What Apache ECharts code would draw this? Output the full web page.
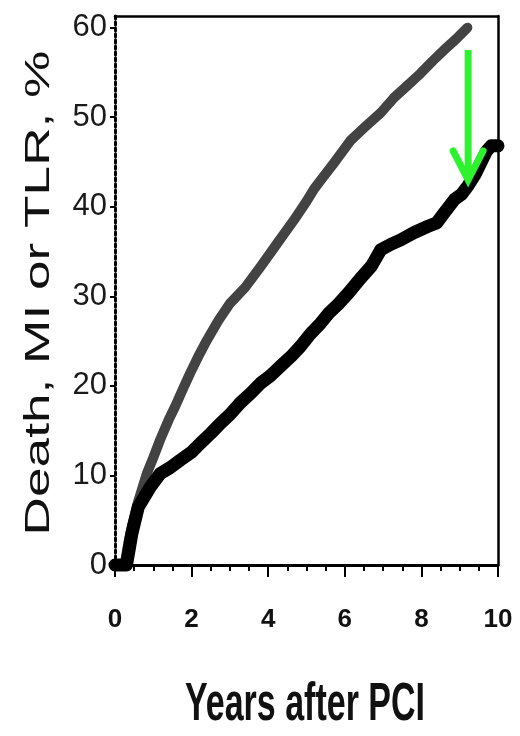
<!DOCTYPE html>
<html>
<head>
<meta charset="utf-8">
<script src="https://cdn.jsdelivr.net/npm/echarts@6/dist/echarts.min.js"></script>
<style>
  html, body { margin: 0; padding: 0; background: #fff; }
  #chart { width: 520px; height: 736px; }
</style>
</head>
<body>
<div id="chart"></div>
<script>
// Cumulative Death, MI or TLR (%) by years after PCI — two cohorts
const upperYears = [0, 0.25, 0.35, 0.45, 0.6, 0.83, 1.0, 1.18, 1.4, 1.57, 1.8, 1.96, 2.2, 2.4, 2.7, 3.0, 3.4, 3.8, 4.2, 4.67, 5.0, 5.2, 5.45, 5.72, 6.15, 6.5, 6.94, 7.29, 7.6, 7.98, 8.3, 8.59, 8.9, 9.2];
const upperPct   = [0, 0,    2.5,  4.5,  7.0, 10.2, 12.0, 14.0, 16.2, 17.7, 19.9, 21.4, 23.5, 25.1, 27.3, 29.2, 31.0, 33.3, 35.7, 38.5, 40.6, 42.0, 43.4, 44.9, 47.4, 48.8, 50.5, 52.2, 53.4, 54.9, 56.3, 57.5, 58.7, 60.0];

const lowerYears = [0, 0.3, 0.38, 0.44, 0.61, 0.92, 1.18, 1.45, 1.7, 2.0, 2.23, 2.5, 2.75, 3.0, 3.27, 3.55, 3.8, 4.05, 4.32, 4.6, 4.84, 5.1, 5.37, 5.6, 5.8, 6.1, 6.41, 6.7, 6.94, 7.2, 7.46, 7.8, 8.16, 8.4, 8.59, 8.86, 9.05, 9.21, 9.4, 9.55, 9.7, 9.82, 10.0];
const lowerPct   = [0, 0,   2.0,  3.5,  6.5,  8.7,  10.2, 10.9, 11.7, 12.6, 13.6, 14.7, 15.8, 16.8, 18.1, 19.2, 20.3, 21.1, 22.2, 23.3, 24.4, 25.8, 27.0, 28.2, 29.0, 30.4, 32.0, 33.4, 35.2, 35.8, 36.3, 37.1, 37.8, 38.2, 39.3, 40.8, 41.4, 42.3, 43.6, 44.9, 46.2, 46.8, 46.8];

// Annotation arrow: [year, start %, end %]
const arrowSpan = [[9.22, 57.5, 43.0]];

const xTicks = [0, 2, 4, 6, 8, 10];
const yTicks = [0, 10, 20, 30, 40, 50, 60];

const yAxisTitle = 'Death, MI or TLR, %';
const xAxisTitle = 'Years after PCI';

const zip = (xs, ys) => xs.map((x, i) => [x, ys[i]]);

const chart = echarts.init(document.getElementById('chart'), null, { renderer: 'canvas' });

const arrowGreen = '#2ef22e';

chart.setOption({
  animation: false,
  backgroundColor: '#fff',
  grid: { left: 115, right: 22, top: 16, bottom: 171, containLabel: false },
  xAxis: [
    {
      type: 'value',
      min: 0, max: 10, interval: 2,
      axisLine: { show: true, onZero: false, lineStyle: { color: '#000', width: 3 } },
      axisTick: { show: true, length: 12, lineStyle: { color: '#000', width: 2 } },
      minorTick: { show: true, splitNumber: 4, length: 6, lineStyle: { color: '#000', width: 2 } },
      splitLine: { show: false },
      axisLabel: {
        margin: 42,
        fontFamily: 'Liberation Sans, Arial, sans-serif',
        fontWeight: 'bold',
        fontSize: 26,
        color: '#111',
        formatter: v => (xTicks.includes(v) ? String(v) : '')
      }
    },
    {
      type: 'value', position: 'top',
      min: 0, max: 10,
      axisLine: { show: true, onZero: false, lineStyle: { color: '#000', width: 2.5 } },
      axisTick: { show: false }, axisLabel: { show: false }, splitLine: { show: false }
    }
  ],
  yAxis: [
    {
      type: 'value',
      min: 0, max: 61.3, interval: 10,
      axisLine: { show: true, onZero: false, lineStyle: { color: '#000', width: 3, type: [3, 3] } },
      axisTick: { show: true, length: 5, lineStyle: { color: '#000', width: 2 } },
      splitLine: { show: false },
      axisLabel: {
        margin: 8,
        showMaxLabel: false,
        fontFamily: 'Liberation Sans, Arial, sans-serif',
        fontSize: 31,
        color: '#1a1a1a',
        formatter: v => (yTicks.includes(v) ? String(v) : '')
      }
    },
    {
      type: 'value', position: 'right',
      min: 0, max: 61.3,
      axisLine: { show: true, onZero: false, lineStyle: { color: '#000', width: 2.5 } },
      axisTick: { show: false }, axisLabel: { show: false }, splitLine: { show: false }
    }
  ],
  graphic: [
    {
      type: 'text',
      x: 39, y: 293,
      rotation: Math.PI / 2,
      scaleX: 1.52,
      style: {
        text: yAxisTitle,
        font: '35px "Liberation Sans", Arial, sans-serif',
        fill: '#111',
        align: 'center',
        verticalAlign: 'middle'
      }
    },
    {
      type: 'text',
      x: 305, y: 705,
      scaleY: 1.6,
      style: {
        text: xAxisTitle,
        font: 'bold 34px "Liberation Sans", Arial, sans-serif',
        fill: '#111',
        align: 'center',
        verticalAlign: 'middle'
      }
    }
  ],
  series: [
    {
      type: 'line',
      data: zip(upperYears, upperPct),
      showSymbol: false,
      clip: false,
      smooth: false,
      lineStyle: { color: '#434343', width: 10, cap: 'round', join: 'round' },
      z: 2
    },
    {
      type: 'line',
      data: zip(lowerYears, lowerPct),
      showSymbol: false,
      clip: false,
      smooth: false,
      lineStyle: { color: '#000', width: 13, cap: 'round', join: 'round' },
      z: 3
    },
    {
      type: 'custom',
      data: arrowSpan,
      encode: { x: 0, y: [1, 2] },
      z: 5,
      renderItem: (params, api) => {
        const from = api.coord([api.value(0), api.value(1)]);
        const tip = api.coord([api.value(0), api.value(2)]);
        return {
          type: 'group',
          children: [
            {
              type: 'line',
              shape: { x1: from[0], y1: from[1], x2: tip[0], y2: tip[1] - 4 },
              style: { stroke: arrowGreen, lineWidth: 7 }
            },
            {
              type: 'polyline',
              shape: { points: [[tip[0] - 15, tip[1] - 29], [tip[0], tip[1]], [tip[0] + 15, tip[1] - 29]] },
              style: { stroke: arrowGreen, lineWidth: 7, fill: null, lineJoin: 'miter', lineCap: 'round' }
            }
          ]
        };
      }
    }
  ]
});
</script>
</body>
</html>
